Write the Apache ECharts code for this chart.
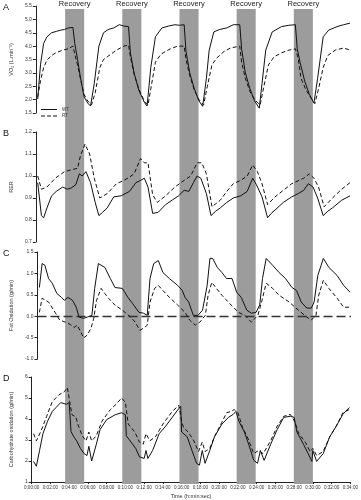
<!DOCTYPE html>
<html><head><meta charset="utf-8">
<script src="https://cdn.jsdelivr.net/npm/echarts@6/dist/echarts.min.js"></script>
<style>html,body{margin:0;padding:0;background:#fff}#c{width:361px;height:500px}</style>
</head><body><div id="c"></div>
<script>
// Time in minutes; recovery bands
const recoveryStart = [4, 10, 16, 22, 28];
const recoveryEnd = [6, 12, 18, 24, 30];
const xTicks = {min: 0, max: 34, interval: 2};

// Panel A: VO2 (L/min)
const vo2WT = [[0.2,2.02],[0.5,3.3],[0.84,4.1],[1.2,4.35],[1.7,4.5],[2.2,4.55],[2.7,4.6],[3.1,4.62],[3.5,4.68],[3.7,4.62],[4.0,4.7],[4.2,4.1],[4.5,3.5],[4.8,2.85],[5.2,2.1],[5.6,1.87],[5.9,1.76],[6.3,2.6],[6.8,4.0],[7.3,4.5],[7.8,4.62],[8.4,4.68],[9.0,4.8],[9.5,4.75],[10,4.73],[10.2,3.74],[10.6,3.0],[11.1,2.36],[11.7,1.9],[12,1.76],[12.4,3.2],[12.9,4.35],[13.6,4.68],[14.3,4.75],[15,4.8],[15.5,4.78],[16,4.8],[16.2,3.8],[16.6,3.0],[17.1,2.4],[17.6,1.95],[18,1.75],[18.4,2.8],[18.7,3.85],[19.2,4.53],[19.8,4.62],[20.6,4.68],[21.3,4.8],[22,4.8],[22.2,3.9],[22.6,3.0],[23.1,2.4],[23.6,1.95],[24.1,1.68],[24.4,2.6],[24.8,3.85],[25.5,4.53],[26.5,4.73],[27.3,4.78],[28,4.8],[28.2,3.9],[28.5,3.4],[29,2.7],[29.5,2.2],[30,1.87],[30.4,2.8],[31,4.35],[31.6,4.6],[32.5,4.73],[33.2,4.8],[33.9,4.86]];
const vo2RT = [[0.2,2.1],[0.5,2.7],[0.84,3.2],[1.2,3.48],[1.7,3.65],[2.1,3.74],[2.9,3.85],[3.5,3.9],[4.0,4.0],[4.2,3.7],[4.5,3.3],[4.8,2.8],[5.2,2.2],[5.6,1.95],[6.0,1.8],[6.2,1.76],[6.4,2.25],[6.9,3.2],[7.3,3.5],[7.7,3.6],[8.7,3.85],[9.5,4.0],[10,4.04],[10.2,3.6],[10.6,2.95],[11.1,2.4],[11.7,1.95],[12.1,1.8],[12.4,2.4],[12.9,3.4],[13.5,3.7],[14.5,3.9],[15.3,4.0],[16,4.0],[16.2,3.5],[16.6,2.9],[17.1,2.35],[17.6,2.0],[18.1,1.8],[18.5,2.5],[19,3.3],[19.5,3.55],[20.3,3.8],[21,3.93],[22,4.0],[22.2,3.4],[22.6,2.8],[23.1,2.3],[23.6,2.0],[24.2,1.8],[24.6,2.5],[25.1,3.3],[25.7,3.6],[26.5,3.75],[27.3,3.85],[28,3.9],[28.3,3.55],[28.6,2.8],[29.1,2.4],[29.6,2.1],[30.1,1.85],[30.5,2.4],[31,3.2],[31.5,3.65],[32.3,3.85],[33.2,3.93],[33.9,3.85]];

// Panel B: RER
const rerWT = [[0.2,0.97],[0.6,0.82],[0.84,0.81],[1.2,0.855],[1.7,0.91],[2.2,0.93],[2.9,0.95],[3.4,0.94],[3.8,0.945],[4.3,0.96],[4.7,1.01],[5.0,1.0],[5.4,1.02],[5.9,0.97],[6.4,0.88],[6.8,0.82],[7.2,0.835],[7.7,0.855],[8.4,0.905],[9.2,0.91],[10.1,0.93],[10.8,0.97],[11.3,0.98],[11.7,0.99],[12.1,0.95],[12.6,0.83],[13.2,0.835],[14.0,0.87],[14.7,0.89],[15.4,0.91],[16,0.935],[16.5,0.93],[17.0,0.97],[17.4,1.0],[17.8,0.99],[18.4,0.92],[18.9,0.82],[19.4,0.84],[19.9,0.855],[20.6,0.88],[21.3,0.90],[22.1,0.91],[22.8,0.93],[23.4,0.99],[23.8,0.96],[24.4,0.905],[25.0,0.81],[25.4,0.83],[25.8,0.845],[26.7,0.88],[27.6,0.905],[28.3,0.92],[28.9,0.935],[29.4,0.965],[29.9,0.95],[30.4,0.90],[31.0,0.82],[31.5,0.84],[32.0,0.855],[33.0,0.89],[33.9,0.91]];
const rerRT = [[0.2,1.0],[0.6,0.94],[1.2,0.95],[2.1,0.99],[3.1,1.02],[4.0,1.03],[4.5,1.035],[4.8,1.09],[5.3,1.145],[5.8,1.10],[6.3,0.99],[6.9,0.90],[7.7,0.92],[8.7,0.965],[9.5,0.98],[10.1,0.995],[10.6,1.01],[11.3,1.08],[11.7,1.06],[12.1,1.06],[12.6,0.915],[13.1,0.88],[14,0.91],[15,0.95],[16,0.98],[16.7,1.0],[17.4,1.06],[17.9,1.06],[18.4,1.01],[19.0,0.86],[19.9,0.89],[20.6,0.93],[21.3,0.965],[22.1,0.98],[22.8,1.0],[23.4,1.05],[23.9,1.02],[24.4,0.965],[25.0,0.87],[25.8,0.905],[26.7,0.935],[27.6,0.965],[28.9,0.99],[29.5,1.01],[30.0,0.99],[30.5,0.95],[31.1,0.86],[32.0,0.90],[33.0,0.94],[33.9,0.97]];

// Panel C: Fat oxidation (g/min)
const fatWT = [[0.2,0.67],[0.5,1.23],[0.8,1.19],[1.2,0.88],[1.6,0.77],[2.1,0.53],[2.6,0.44],[2.9,0.37],[3.3,0.44],[3.8,0.37],[4.2,0.21],[4.5,-0.02],[5.0,-0.05],[5.4,-0.02],[5.9,0.02],[6.2,0.65],[6.6,1.23],[7.3,1.14],[7.9,0.88],[8.4,0.67],[9.2,0.65],[9.8,0.44],[10.3,0.30],[11.0,0.09],[11.5,0.07],[11.9,0.02],[12.2,0.88],[12.6,1.23],[13.1,1.30],[13.6,1.02],[14.3,0.88],[15.2,0.72],[15.7,0.60],[16.0,0.44],[16.4,0.33],[16.9,0.02],[17.4,0.02],[17.9,0.14],[18.4,0.72],[18.7,1.35],[19.0,1.35],[19.5,1.14],[20.0,1.02],[20.5,0.88],[21.1,0.88],[21.6,0.56],[22.1,0.44],[22.7,0.14],[23.2,0.07],[23.7,0.09],[24.1,0.26],[24.4,0.88],[24.8,1.35],[25.5,1.19],[26.2,1.02],[26.9,0.88],[27.6,0.67],[28.1,0.60],[28.6,0.33],[29.2,0.19],[29.7,0.19],[30.0,0.33],[30.4,0.95],[31.0,1.35],[31.6,1.14],[32.5,0.95],[33.2,0.72],[33.9,0.56]];
const fatRT = [[0.2,0.09],[0.5,0.42],[0.7,0.44],[1.2,0.33],[1.9,0.09],[2.4,-0.09],[3.3,-0.16],[4.0,-0.26],[4.3,-0.21],[4.7,-0.37],[5.0,-0.51],[5.4,-0.44],[5.8,-0.28],[6.1,-0.05],[6.4,0.37],[6.9,0.65],[7.3,0.53],[7.7,0.42],[8.4,0.26],[9.2,0.14],[10.1,-0.02],[10.6,-0.14],[11.1,-0.33],[11.5,-0.28],[11.9,-0.21],[12.2,0.33],[12.7,0.65],[13.1,0.72],[13.6,0.60],[14.3,0.44],[15.2,0.26],[16.0,0.09],[16.5,-0.09],[17.1,-0.21],[17.6,-0.14],[18.2,0.02],[18.5,0.49],[18.9,0.79],[19.4,0.65],[20.0,0.49],[21.0,0.26],[21.8,0.09],[22.5,0.02],[23.2,-0.14],[23.9,0.02],[24.3,0.33],[24.8,0.77],[25.5,0.65],[26.2,0.49],[27.3,0.33],[28.3,0.14],[29.2,-0.02],[29.7,-0.09],[30.2,0.02],[30.5,0.49],[31.0,0.84],[31.6,0.65],[32.5,0.42],[33.2,0.21],[33.9,0.21]];

// Panel D: Carbohydrate oxidation (g/min)
const choWT = [[0.2,1.98],[0.5,1.75],[0.84,2.5],[1.2,3.3],[1.7,3.9],[2.2,4.36],[2.6,4.55],[3.1,4.78],[3.7,4.7],[4.0,4.78],[4.2,3.4],[4.5,3.15],[4.8,2.96],[5.2,2.6],[5.6,2.35],[5.9,2.26],[6.1,2.7],[6.4,2.0],[6.9,2.8],[7.3,3.5],[8.0,3.97],[8.9,4.2],[9.6,4.3],[10.0,4.2],[10.1,3.2],[10.6,2.9],[11.1,2.6],[11.5,2.2],[12.0,2.12],[12.2,2.5],[12.4,2.12],[12.9,2.5],[13.6,3.3],[14.3,3.66],[15.0,4.08],[15.7,4.5],[15.9,4.6],[16.0,3.38],[16.6,3.15],[17.1,2.5],[17.6,1.89],[17.9,1.8],[18.2,2.5],[18.5,1.89],[19.0,2.5],[19.5,3.15],[20.3,3.76],[21.0,4.08],[21.5,4.22],[21.8,4.36],[22.1,3.9],[22.7,3.38],[23.2,2.73],[23.7,2.03],[24.1,1.89],[24.4,2.5],[24.8,2.03],[25.5,2.8],[26.2,3.5],[26.9,4.08],[27.6,4.13],[28.0,4.08],[28.3,3.38],[29.0,2.8],[29.5,2.35],[29.9,1.98],[30.0,2.5],[30.4,1.98],[31.1,2.35],[31.8,3.15],[32.5,3.66],[33.2,4.22],[33.9,4.55]];
const choRT = [[0.2,3.3],[0.5,2.96],[1.0,3.43],[1.6,4.13],[2.2,4.83],[2.9,5.15],[3.5,5.3],[3.8,5.5],[4.0,5.5],[4.3,4.2],[4.7,4.1],[5.0,3.66],[5.4,3.2],[5.8,2.96],[6.1,3.38],[6.4,2.96],[6.9,3.2],[7.5,3.9],[8.4,4.45],[9.0,4.7],[9.6,5.0],[10.0,4.78],[10.3,3.76],[11.0,3.38],[11.5,2.9],[11.9,2.8],[12.2,3.3],[12.6,2.96],[13.2,3.15],[14.0,3.76],[15.0,4.36],[15.7,4.65],[16.0,3.9],[16.2,3.6],[16.7,3.38],[17.3,2.96],[17.8,2.45],[18.2,2.9],[18.5,2.45],[19.0,2.6],[19.5,3.15],[20.3,3.85],[20.8,4.3],[21.3,4.36],[21.6,4.45],[22.0,4.3],[22.5,3.6],[23.1,3.05],[23.7,2.35],[24.2,2.5],[24.7,2.35],[25.5,2.96],[26.2,3.66],[26.9,4.13],[27.6,4.22],[28.1,3.85],[28.5,3.3],[29.2,2.9],[29.7,2.45],[30.0,2.6],[30.4,2.26],[31.1,2.45],[31.8,3.15],[32.5,3.66],[33.2,4.3],[33.9,4.45]];

const panelLetters = ['A','B','C','D'];
const yTitles = ['V\u0307O\u2082 (L.min\u207B\u00B9)', 'RER', 'Fat Oxidation (g/min)', 'Carbohydrate oxidation (g/min)'];
const yRanges = [{min:1.5,max:5.5,interval:0.5},{min:0.7,max:1.2,interval:0.1},{min:-1.0,max:1.5,interval:0.5},{min:1,max:6,interval:1}];
const yDecimals = [1,1,1,0];
const xTitle = 'Time (h:min:sec)';
const bandLabel = 'Recovery';

const FONT = 'Liberation Sans, Arial, sans-serif';
const panelTops = [6, 132, 252, 377];
const panelHeights = [107, 110, 107, 107];
const L = 27, R = 10;

const chart = echarts.init(document.getElementById('c'), null, {renderer:'canvas'});
const pad = n => (n < 10 ? '0' : '') + n;
const grids = panelTops.map((t,i)=>({left:L, right:R, top:t, height:panelHeights[i]}));
grids.push({left:L, right:R, top:9, height:475});

const xAxes = grids.map((g,i)=>({
  type:'value', gridIndex:i, min:xTicks.min, max:xTicks.max, interval:xTicks.interval,
  show: i===3,
  axisLine:{show:true, lineStyle:{color:'#222', width:1}},
  axisTick:{show:true, length:2, lineStyle:{color:'#222'}},
  axisLabel:{fontSize:4.6, color:'#333', fontFamily:FONT, margin:3, formatter:v=>'0:'+pad(v)+':00'},
  splitLine:{show:false},
  name: i===3 ? xTitle : '', nameLocation:'middle', nameGap:11,
  nameTextStyle:{fontSize:5.5, color:'#333', fontFamily:FONT}
}));

const yAxes = yRanges.map((r,i)=>({
  type:'value', gridIndex:i, min:r.min, max:r.max, interval:r.interval,
  axisLine:{show:true, lineStyle:{color:'#222', width:1}},
  axisTick:{show:true, length:3, lineStyle:{color:'#222'}},
  axisLabel:{fontSize:5, color:'#333', fontFamily:FONT, margin:4, formatter:v=>v.toFixed(yDecimals[i])},
  splitLine:{show:false},
  name: yTitles[i], nameLocation:'middle', nameGap:16, nameRotate:90,
  nameTextStyle:{fontSize:5.5, color:'#333', fontFamily:FONT}
}));
yAxes.push({type:'value', gridIndex:4, min:0, max:1, show:false});

const lineSeries = (name, data, idx, dashed) => ({
  type:'line', name, data, xAxisIndex:idx, yAxisIndex:idx, symbol:'none', showSymbol:false,
  animation:false, z:5, silent:true,
  lineStyle:{color:'#111', width:1, type: dashed ? [4,2.5] : 'solid'},
  itemStyle:{color:'#111'}
});

const series = [
  {type:'line', data:[], xAxisIndex:4, yAxisIndex:4, silent:true, z:1,
   markArea:{silent:true, itemStyle:{color:'#9c9c9c'},
     label:{show:true, position:'top', distance:1, fontSize:7.5, color:'#222', fontFamily:FONT},
     data: recoveryStart.map((s,k)=>[{xAxis:s, name:bandLabel},{xAxis:recoveryEnd[k]}])}},
  lineSeries('WT', vo2WT, 0, false),
  lineSeries('RT', vo2RT, 0, true),
  lineSeries('rerWT', rerWT, 1, false),
  lineSeries('rerRT', rerRT, 1, true),
  Object.assign(lineSeries('fatWT', fatWT, 2, false), {
    markLine:{silent:true, symbol:'none', label:{show:false}, animation:false,
      lineStyle:{color:'#333', width:1.3, type:[9,4]}, data:[{yAxis:0}]}}),
  lineSeries('fatRT', fatRT, 2, true),
  lineSeries('choWT', choWT, 3, false),
  lineSeries('choRT', choRT, 3, true)
];

const graphics = panelLetters.map((l,i)=>({
  type:'text', left:3, top:panelTops[i]-3,
  style:{text:l, fontSize:9, fill:'#111', fontFamily:FONT}
}));

const solidIcon = 'path://M0,0H16V1H0Z';
const dashIcon = 'path://M0,0H4V1H0Z M6,0H10V1H6Z M12,0H16V1H12Z';

chart.setOption({
  animation:false,
  backgroundColor:'#fff',
  grid: grids, xAxis: xAxes, yAxis: yAxes, series,
  legend:{data:[{name:'WT', icon:solidIcon},{name:'RT', icon:dashIcon}], left:36, top:102, orient:'vertical',
    itemWidth:16, itemHeight:1.2, itemGap:1.5, selectedMode:false,
    itemStyle:{color:'#111', borderWidth:0},
    textStyle:{fontSize:4.5, color:'#333', fontFamily:FONT}},
  graphic: graphics
});
</script></body></html>
